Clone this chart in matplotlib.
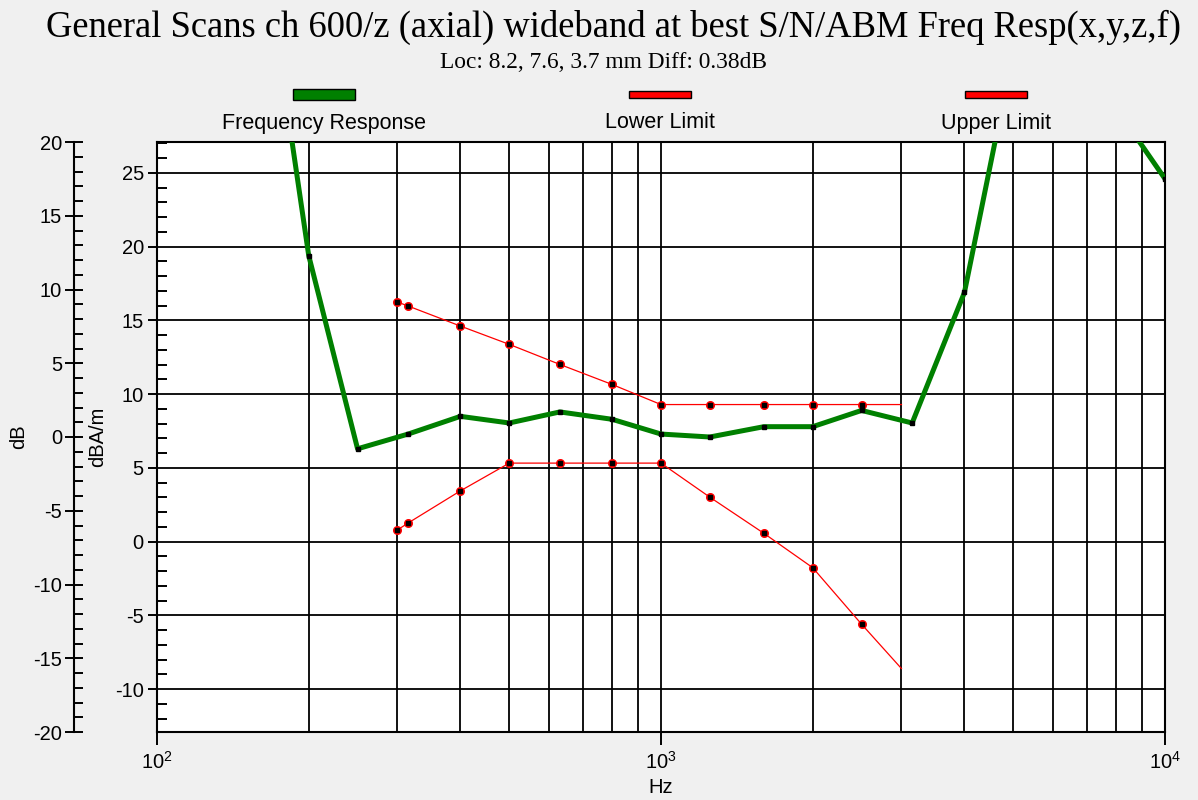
import matplotlib
matplotlib.use('Agg')
import matplotlib.pyplot as plt
from matplotlib.ticker import LogLocator, MultipleLocator, NullFormatter
from matplotlib.patches import Rectangle

# frequency response, 1/3 octave points (dBA/m)
fr_hz = [160, 200, 250, 315, 400, 500, 630, 800, 1000, 1250, 1600, 2000,
         2500, 3150, 4000, 5000, 6300, 8000, 10000]
fr_db = [42.0, 19.4, 6.3, 7.3, 8.5, 8.05, 8.8, 8.3, 7.3, 7.1, 7.8, 7.8,
         8.9, 8.05, 16.9, 33.2, 36.0, 29.4, 24.6]

# limit masks
lim_hz = [300, 315, 400, 500, 630, 800, 1000, 1250, 1600, 2000, 2500, 3000]
upper_db = [16.25, 15.98, 14.62, 13.38, 12.02, 10.66, 9.3, 9.3, 9.3, 9.3, 9.3, 9.3]
lower_db = [0.8, 1.27, 3.45, 5.33, 5.33, 5.33, 5.33, 3.02, 0.57, -1.76, -5.59, -8.6]

offset = 7.1  # dBA/m axis vs dB axis
W, H = 1198, 800
bg = '#f0f0f0'
green = '#008000'
red = '#ff0000'

plt.rcParams['font.family'] = ['Liberation Sans', 'DejaVu Sans']
plt.rcParams['font.size'] = 14.5
plt.rcParams['axes.unicode_minus'] = False

fig = plt.figure(figsize=(W / 100, H / 100), dpi=100, facecolor=bg)

''' main plot area, dBA/m scale '''
ax = fig.add_axes([157 / W, 68 / H, 1008 / W, 590 / H])
ax.set_xscale('log')
ax.set_xlim(100, 10000)
ax.set_ylim(-20 + offset, 20 + offset)
ax.set_facecolor('white')

ax.xaxis.set_major_locator(LogLocator(base=10))
ax.xaxis.set_minor_locator(LogLocator(base=10, subs=range(2, 10)))
ax.xaxis.set_minor_formatter(NullFormatter())
ax.yaxis.set_major_locator(MultipleLocator(5))
ax.yaxis.set_minor_locator(MultipleLocator(1))

ax.grid(which='both', axis='x', color='black', linewidth=1.3)
ax.grid(which='major', axis='y', color='black', linewidth=1.3)
ax.set_axisbelow(True)

ax.tick_params(axis='x', which='major', direction='out', length=9.5, width=1.4, pad=4)
ax.tick_params(axis='x', which='minor', length=0)
ax.tick_params(axis='y', which='major', direction='out', length=6.5, width=1.4, pad=3)
ax.tick_params(axis='y', which='minor', direction='in', length=7, width=1.4)
for s in ax.spines.values():
    s.set_linewidth(1.5)

ax.plot(lim_hz, upper_db, color=red, linewidth=0.9, zorder=3)
ax.plot(lim_hz, lower_db, color=red, linewidth=0.9, zorder=3)
ax.plot(lim_hz[:-1], upper_db[:-1], 'o', color=red, markersize=5.5, zorder=4)
ax.plot(lim_hz[:-1], lower_db[:-1], 'o', color=red, markersize=5.5, zorder=4)
ax.plot(lim_hz[:-1], upper_db[:-1], 's', color='black', markersize=2.3, zorder=5)
ax.plot(lim_hz[:-1], lower_db[:-1], 's', color='black', markersize=2.3, zorder=5)

ax.plot(fr_hz, fr_db, color=green, linewidth=3.6, zorder=6)
ax.plot(fr_hz, fr_db, 's', color='black', markersize=2.3, zorder=7)

ax.set_xlabel('Hz', labelpad=4)

''' outer dB axis '''
ax2 = fig.add_axes([74 / W, 68 / H, 0.001, 590 / H])
ax2.set_ylim(-20, 20)
ax2.patch.set_visible(False)
for k in ['top', 'right', 'bottom']:
    ax2.spines[k].set_visible(False)
ax2.spines['left'].set_linewidth(1.5)
ax2.set_xticks([])
ax2.yaxis.set_major_locator(MultipleLocator(5))
ax2.yaxis.set_minor_locator(MultipleLocator(1))
ax2.tick_params(axis='y', which='major', direction='inout', length=13, width=1.4, pad=2)
ax2.tick_params(axis='y', which='minor', direction='in', length=6.5, width=1.4)

fig.text(19 / W, 1 - 437 / H, 'dB', rotation=90, ha='center', va='center', fontsize=14.5)
fig.text(98 / W, 1 - 437 / H, 'dBA/m', rotation=90, ha='center', va='center', fontsize=14.5)

''' titles '''
fig.text(614 / W, 1 - 27 / H,
         'General Scans ch 600/z (axial) wideband at best S/N/ABM Freq Resp(x,y,z,f)',
         family='Liberation Serif', fontsize=26.3, ha='center', va='center')
fig.text(604 / W, 1 - 62 / H, 'Loc: 8.2, 7.6, 3.7 mm Diff: 0.38dB',
         family='Liberation Serif', fontsize=16.8, ha='center', va='center')

''' legend: swatch above label '''
legend_items = [('Frequency Response', green, 324, 11), ('Lower Limit', red, 660, 7),
                ('Upper Limit', red, 996, 7)]
for name, col, xc, hh in legend_items:
    fig.patches.append(Rectangle(((xc - 31) / W, 1 - (94.5 + hh / 2) / H), 62 / W, hh / H,
                                 transform=fig.transFigure, facecolor=col,
                                 edgecolor='black', linewidth=1.0))
    fig.text(xc / W, 1 - 123 / H, name, ha='center', va='center', fontsize=15.5)

fig.savefig('out.png', dpi=100, facecolor=bg)
